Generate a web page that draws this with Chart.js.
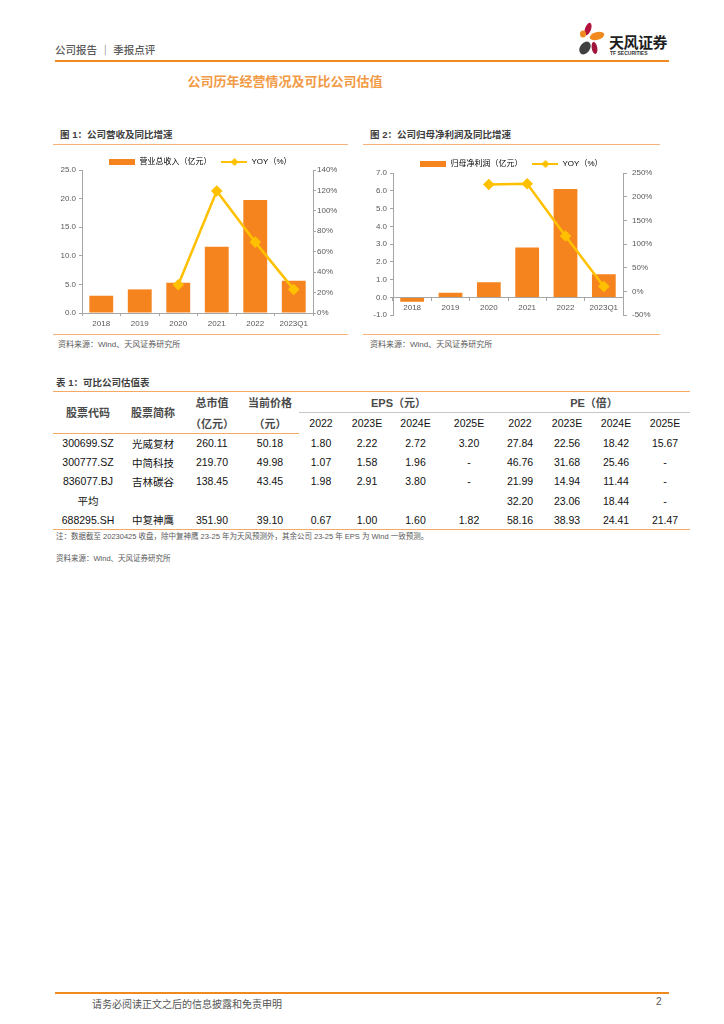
<!DOCTYPE html>
<html lang="zh-CN">
<head>
<meta charset="UTF-8">
<title>公司历年经营情况及可比公司估值</title>
<script src="https://cdn.jsdelivr.net/npm/chart.js@4.4.1/dist/chart.umd.min.js"></script>
<style>
  html, body { margin: 0; padding: 0; }
  body {
    width: 724px; height: 1024px; position: relative; overflow: hidden; background: #fff;
    font-family: "Liberation Sans", "Noto Sans CJK SC", sans-serif; color: #222;
  }
  .abs { position: absolute; white-space: nowrap; }
  .hdr-text { left: 55px; top: 42px; font-size: 10.5px; color: #595959; font-weight: 500; }
  .hdr-line { left: 55px; top: 60px; width: 614px; height: 2px; background: #F08A1E; }
  .logo-cn { left: 609px; top: 31px; font-size: 15px; font-weight: bold; color: #1e1e1e; letter-spacing: -0.5px; }
  .logo-en { left: 610px; top: 50px; font-size: 10px; font-weight: bold; color: #333; transform: scale(0.5); transform-origin: 0 0; }
  .main-title { left: 0; width: 570px; top: 71px; text-align: center; font-size: 13px; font-weight: bold; color: #F29A45; }
  .fig-title { top: 127px; font-size: 9.5px; font-weight: bold; color: #404040; }
  .thin-line { height: 1px; background: #F5B27A; }
  .src { font-size: 8px; color: #595959; }
  .chart-box { position: absolute; }
  table { border-collapse: collapse; table-layout: fixed; }
  td, th { padding: 0; text-align: center; font-weight: normal; white-space: nowrap; }
  .peer { left: 53px; top: 391px; width: 637px; font-size: 10.5px; color: #111; }
  .peer th { font-weight: bold; color: #4a4a4a; font-size: 11px; }
  .peer .h1 td, .peer .h1 th { height: 20px; }
  .peer .h2 td, .peer .h2 th { height: 20px; }
  .peer tbody td { height: 19.2px; }
  .note { font-size: 7.5px; color: #595959; }
  .foot-line { left: 55px; top: 992px; width: 614px; height: 2px; background: #F08A1E; }
  .foot-text { top: 996px; font-size: 10px; color: #555; }
</style>
</head>
<body>
  <!-- page header -->
  <div class="abs hdr-text">公司报告 ｜ 季报点评</div>
  <div class="abs hdr-line"></div>
  <svg class="abs" style="left:570px;top:20px" width="40" height="40" viewBox="0 0 40 40">
    <ellipse cx="18" cy="9" rx="3" ry="6.5" fill="#B3123D" transform="rotate(20 18 9)"/>
    <ellipse cx="13" cy="14" rx="3" ry="3.5" fill="#F08A1E"/>
    <ellipse cx="27" cy="16" rx="7.5" ry="4" fill="#F08A1E" transform="rotate(-15 27 16)"/>
    <ellipse cx="15" cy="28" rx="5" ry="7" fill="#404040" transform="rotate(35 15 28)"/>
    <ellipse cx="24.5" cy="28" rx="2.8" ry="6" fill="#A0143C" transform="rotate(-10 24.5 28)"/>
  </svg>
  <div class="abs logo-cn">天风证券</div>
  <div class="abs logo-en">TF SECURITIES</div>

  <div class="abs main-title">公司历年经营情况及可比公司估值</div>

  <!-- figure 1 -->
  <div class="abs fig-title" style="left:60px">图 1：公司营收及同比增速</div>
  <div class="abs thin-line" style="left:53px;top:144px;width:295px"></div>
  <div class="chart-box" style="left:53px;top:148px;width:295px;height:184px"><canvas id="revChart"></canvas></div>
  <div class="abs thin-line" style="left:53px;top:334px;width:295px"></div>
  <div class="abs src" style="left:58px;top:338px">资料来源：Wind、天风证券研究所</div>

  <!-- figure 2 -->
  <div class="abs fig-title" style="left:370px">图 2：公司归母净利润及同比增速</div>
  <div class="abs thin-line" style="left:363px;top:144px;width:297px"></div>
  <div class="chart-box" style="left:363px;top:150px;width:297px;height:175px"><canvas id="profitChart"></canvas></div>
  <div class="abs thin-line" style="left:363px;top:334px;width:297px"></div>
  <div class="abs src" style="left:370px;top:338px">资料来源：Wind、天风证券研究所</div>

  <!-- table 1 -->
  <div class="abs fig-title" style="left:56px;top:375px">表 1：可比公司估值表</div>
  <table class="abs peer" id="peerTable"></table>
  <div class="abs note" style="left:56px;top:530px">注：数据截至 20230425 收盘，除中复神鹰 23-25 年为天风预测外，其余公司 23-25 年 EPS 为 Wind 一致预测。</div>
  <div class="abs note" style="left:56px;top:552px">资料来源：Wind、天风证券研究所</div>

  <!-- footer -->
  <div class="abs foot-line"></div>
  <div class="abs foot-text" style="left:92px">请务必阅读正文之后的信息披露和免责申明</div>
  <div class="abs foot-text" style="left:656px">2</div>

<script>
  // chart data
  const years = ['2018', '2019', '2020', '2021', '2022', '2023Q1'];
  const revenue = [3.02, 4.13, 5.29, 11.57, 19.77, 5.64];          // 亿元
  const revenueYoy = [null, null, 27.7, 119.5, 69.4, 23.1];        // %
  const netProfit = [-0.25, 0.26, 0.85, 2.81, 6.10, 1.30];         // 亿元
  const netProfitYoy = [null, null, 225.8, 227.2, 117.0, 10.6];    // %

  // table data
  const groupYears = ['2022', '2023E', '2024E', '2025E'];
  const colWidths = [70, 60, 58, 58, 44, 48, 49, 58, 44, 50, 48, 50];
  const peerRows = [
    ['300699.SZ', '光威复材', '260.11', '50.18', '1.80', '2.22', '2.72', '3.20', '27.84', '22.56', '18.42', '15.67'],
    ['300777.SZ', '中简科技', '219.70', '49.98', '1.07', '1.58', '1.96', '-', '46.76', '31.68', '25.46', '-'],
    ['836077.BJ', '吉林碳谷', '138.45', '43.45', '1.98', '2.91', '3.80', '-', '21.99', '14.94', '11.44', '-'],
    ['平均', '', '', '', '', '', '', '', '32.20', '23.06', '18.44', '-'],
    ['688295.SH', '中复神鹰', '351.90', '39.10', '0.67', '1.00', '1.60', '1.82', '58.16', '38.93', '24.41', '21.47']
  ];

  const BAR = '#F5841F';
  const LINE = '#FFC000';
  const AXIS = '#A6A6A6';
  const TICK = '#595959';

  // build the table
  const ORANGE_LINE = '1.5px solid #F5A964';
  let html = '<colgroup>' + colWidths.map(w => `<col style="width:${w}px">`).join('') + '</colgroup>';
  html += `<thead><tr class="h1" style="border-top:${ORANGE_LINE}">` +
    `<th rowspan="2" style="border-bottom:${ORANGE_LINE}">股票代码</th>` +
    `<th rowspan="2" style="border-bottom:${ORANGE_LINE}">股票简称</th>` +
    `<th>总市值</th><th>当前价格</th>` +
    `<th colspan="4" style="border-bottom:1px solid #C8C8C8">EPS（元）</th>` +
    `<th colspan="4" style="border-bottom:1px solid #C8C8C8">PE（倍）</th></tr>`;
  html += `<tr class="h2"><th style="border-bottom:${ORANGE_LINE}">（亿元）</th><th style="border-bottom:${ORANGE_LINE}">（元）</th>` +
    groupYears.concat(groupYears).map(y => `<td>${y}</td>`).join('') + '</tr></thead><tbody>';
  peerRows.forEach((row, i) => {
    const last = i === peerRows.length - 1;
    html += `<tr${last ? ` style="border-bottom:${ORANGE_LINE}"` : ''}>` + row.map(v => `<td>${v}</td>`).join('') + '</tr>';
  });
  html += '</tbody>';
  document.getElementById('peerTable').innerHTML = html;

  // legend swatches
  function barSwatch(color) {
    const c = document.createElement('canvas');
    c.width = 26; c.height = 6;
    const g = c.getContext('2d');
    g.fillStyle = color;
    g.fillRect(0, 0, 26, 6);
    return c;
  }
  function lineSwatch(color) {
    const c = document.createElement('canvas');
    c.width = 26; c.height = 10;
    const g = c.getContext('2d');
    g.strokeStyle = color; g.lineWidth = 2;
    g.beginPath(); g.moveTo(0, 5); g.lineTo(26, 5); g.stroke();
    g.fillStyle = color;
    g.beginPath(); g.moveTo(13, 1); g.lineTo(17, 5); g.lineTo(13, 9); g.lineTo(9, 5); g.closePath(); g.fill();
    return c;
  }
  const swatches = [barSwatch(BAR), lineSwatch(LINE)];

  // fixed legend height so the plot area lands where it does in the report
  const legendHeight = h => ({
    id: 'legendHeight',
    beforeInit(chart) {
      const fit = chart.legend.fit;
      chart.legend.fit = function () { fit.call(this); this.height = h; };
    }
  });

  Chart.defaults.font.family = '"Liberation Sans", "Noto Sans CJK SC", sans-serif';
  Chart.defaults.animation = false;

  function makeChart(id, opt) {
    return new Chart(document.getElementById(id), {
      data: {
        labels: years,
        datasets: [
          { type: 'bar', label: opt.barLabel, data: opt.bars, backgroundColor: BAR, yAxisID: 'y',
            order: 2, barPercentage: 0.62, categoryPercentage: 1 },
          { type: 'line', label: 'YOY（%）', data: opt.yoy, borderColor: LINE, backgroundColor: LINE,
            borderWidth: 2.5, pointStyle: 'rectRot', pointRadius: 4, pointHoverRadius: 4,
            yAxisID: 'y1', order: 1 }
        ]
      },
      options: {
        responsive: true,
        maintainAspectRatio: false,
        layout: { padding: opt.padding },
        plugins: {
          tooltip: { enabled: false },
          legend: {
            position: 'top',
            labels: {
              usePointStyle: true, pointStyleWidth: 26, padding: 10, color: '#404040',
              font: { size: 8 },
              generateLabels: chart => chart.data.datasets.map((ds, i) => ({
                text: ds.label, pointStyle: swatches[i], fillStyle: 'transparent',
                strokeStyle: 'transparent', lineWidth: 0, hidden: false, datasetIndex: i
              }))
            }
          }
        },
        scales: {
          x: {
            position: opt.xPos,
            grid: { drawOnChartArea: false, tickLength: 3, color: AXIS, offset: true },
            border: { color: AXIS },
            ticks: { color: TICK, font: { size: 8 }, padding: 3, maxRotation: 0, autoSkip: false },
            afterFit: s => { if (opt.xHeight) s.height = opt.xHeight; }
          },
          y: {
            position: 'left', min: opt.yMin, max: opt.yMax,
            grid: { drawOnChartArea: false, tickLength: 3, color: AXIS },
            border: { color: AXIS },
            ticks: { stepSize: opt.yStep, color: TICK, font: { size: 8 }, padding: 3,
                     callback: v => v.toFixed(1) },
            afterFit: s => { s.width = opt.leftW; }
          },
          y1: {
            position: 'right', min: opt.rMin, max: opt.rMax,
            grid: { drawOnChartArea: false, tickLength: opt.rTick, color: AXIS },
            border: { color: AXIS },
            ticks: { stepSize: opt.rStep, color: TICK, font: { size: 8 }, padding: opt.rPad,
                     callback: v => v + '%' },
            afterFit: s => { s.width = opt.rightW; }
          }
        }
      },
      plugins: [legendHeight(opt.legendH)]
    });
  }

  makeChart('revChart', {
    barLabel: '营业总收入（亿元）', bars: revenue, yoy: revenueYoy,
    yMin: 0, yMax: 25, yStep: 5, rMin: 0, rMax: 140, rStep: 20, rTick: 3, rPad: 1,
    leftW: 29, rightW: 35, legendH: 22, xHeight: 19, xPos: 'bottom', padding: 0
  });

  makeChart('profitChart', {
    barLabel: '归母净利润（亿元）', bars: netProfit, yoy: netProfitYoy,
    yMin: -1, yMax: 7, yStep: 1, rMin: -50, rMax: 250, rStep: 50, rTick: 4, rPad: 5,
    leftW: 30, rightW: 37, legendH: 23, xHeight: 0, xPos: { y: 0 }, padding: { bottom: 5 }
  });
</script>
</body>
</html>
